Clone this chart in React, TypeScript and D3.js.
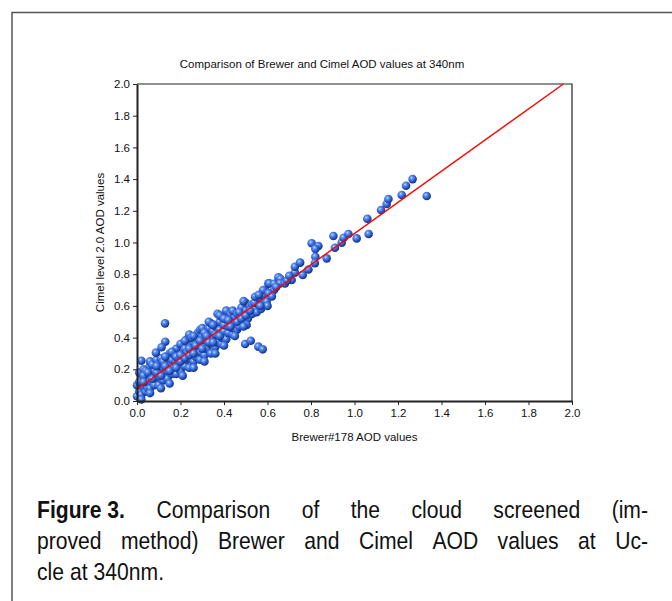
import { useEffect, useRef } from "react";
import * as d3 from "d3";

// Brewer (x) vs Cimel (y) AOD at 340nm
const denseCloud: [number, number][] = [
  [0.0, 0.03], [0.01, 0.06], [0.0, 0.1], [0.02, 0.14], [0.01, 0.18], [0.02, 0.04], [0.03, 0.09], [0.01, 0.12], [0.03, 0.2],
  [0.04, 0.06], [0.04, 0.1], [0.05, 0.15], [0.04, 0.19], [0.05, 0.08], [0.06, 0.22], [0.05, 0.12], [0.03, 0.16],
  [0.06, 0.08], [0.07, 0.12], [0.07, 0.17], [0.08, 0.21], [0.06, 0.25], [0.08, 0.1], [0.09, 0.14], [0.08, 0.19], [0.07, 0.23], [0.09, 0.26],
  [0.1, 0.1], [0.1, 0.15], [0.11, 0.19], [0.1, 0.23], [0.11, 0.27], [0.12, 0.13], [0.12, 0.21], [0.13, 0.17], [0.12, 0.25],
  [0.14, 0.14], [0.14, 0.19], [0.15, 0.23], [0.14, 0.27], [0.15, 0.3], [0.16, 0.17], [0.16, 0.22], [0.16, 0.26], [0.17, 0.2], [0.17, 0.29], [0.18, 0.24],
  [0.18, 0.17], [0.19, 0.21], [0.19, 0.28], [0.2, 0.32], [0.18, 0.33], [0.2, 0.19], [0.21, 0.25], [0.2, 0.36], [0.21, 0.29], [0.22, 0.22], [0.22, 0.33], [0.19, 0.25],
  [0.23, 0.26], [0.23, 0.31], [0.24, 0.36], [0.23, 0.39], [0.24, 0.21], [0.25, 0.29], [0.25, 0.34], [0.24, 0.42], [0.26, 0.25], [0.26, 0.37], [0.25, 0.4], [0.27, 0.31],
  [0.27, 0.28], [0.28, 0.34], [0.28, 0.39], [0.28, 0.43], [0.29, 0.26], [0.29, 0.31], [0.3, 0.37], [0.3, 0.41], [0.29, 0.45], [0.31, 0.29], [0.31, 0.34], [0.3, 0.46],
  [0.32, 0.33], [0.32, 0.38], [0.33, 0.42], [0.33, 0.46], [0.34, 0.3], [0.34, 0.36], [0.35, 0.4], [0.34, 0.49], [0.35, 0.44], [0.36, 0.34], [0.36, 0.47], [0.33, 0.5],
  [0.37, 0.37], [0.37, 0.42], [0.38, 0.45], [0.38, 0.5], [0.39, 0.36], [0.39, 0.4], [0.4, 0.44], [0.4, 0.48], [0.39, 0.53], [0.41, 0.39], [0.41, 0.52], [0.41, 0.57],
  [0.42, 0.43], [0.42, 0.47], [0.43, 0.51], [0.43, 0.55], [0.44, 0.42], [0.44, 0.46], [0.45, 0.49], [0.45, 0.53], [0.44, 0.57], [0.46, 0.45], [0.46, 0.55], [0.37, 0.55],
  [0.47, 0.47], [0.47, 0.51], [0.48, 0.55], [0.48, 0.59], [0.49, 0.5], [0.49, 0.54], [0.5, 0.57], [0.5, 0.62], [0.51, 0.52], [0.51, 0.56], [0.52, 0.6], [0.49, 0.63],
  [0.53, 0.55], [0.53, 0.61], [0.54, 0.58], [0.55, 0.64], [0.55, 0.56], [0.56, 0.61], [0.57, 0.66], [0.57, 0.58], [0.58, 0.63], [0.59, 0.7],
  [0.02, 0.01], [0.06, 0.05], [0.11, 0.08], [0.15, 0.11], [0.21, 0.16], [0.26, 0.21], [0.31, 0.25], [0.36, 0.3], [0.4, 0.35], [0.45, 0.41],
  [0.03, 0.12], [0.05, 0.18], [0.07, 0.14], [0.09, 0.18], [0.09, 0.22], [0.11, 0.16], [0.13, 0.22], [0.13, 0.28], [0.15, 0.19], [0.16, 0.31],
  [0.18, 0.21], [0.18, 0.28], [0.2, 0.25], [0.2, 0.29], [0.22, 0.27], [0.22, 0.38], [0.24, 0.29], [0.24, 0.33], [0.26, 0.3], [0.26, 0.41],
  [0.27, 0.35], [0.29, 0.38], [0.3, 0.33], [0.31, 0.43], [0.32, 0.41], [0.33, 0.37], [0.35, 0.37], [0.35, 0.48], [0.36, 0.42], [0.38, 0.41],
  [0.38, 0.54], [0.4, 0.52], [0.42, 0.51], [0.43, 0.47], [0.46, 0.5], [0.47, 0.56], [0.48, 0.52], [0.5, 0.54], [0.52, 0.57], [0.54, 0.62],
  [0.56, 0.65], [0.58, 0.67],
];

const midRange: [number, number][] = [
  [0.604, 0.742], [0.608, 0.742], [0.63, 0.74], [0.65, 0.78], [0.66, 0.77], [0.658, 0.742], [0.68, 0.742], [0.711, 0.763],
  [0.726, 0.81], [0.726, 0.847], [0.762, 0.795], [0.788, 0.83], [0.75, 0.873], [0.58, 0.7], [0.63, 0.7], [0.605, 0.68],
  [0.543, 0.658], [0.56, 0.67], [0.596, 0.627], [0.6, 0.6], [0.567, 0.6], [0.62, 0.66], [0.64, 0.72], [0.69, 0.76], [0.7, 0.79],
];

const upperTail: [number, number][] = [
  [0.803, 0.995], [0.834, 0.978], [0.82, 0.96], [0.872, 0.9], [0.82, 0.91], [0.818, 0.87], [0.903, 1.041], [0.91, 0.967],
  [0.941, 0.999], [0.95, 1.03], [0.972, 1.054], [1.01, 1.026], [1.065, 1.054], [1.059, 1.15], [1.122, 1.205], [1.148, 1.243],
  [1.156, 1.274], [1.217, 1.3], [1.237, 1.358], [1.267, 1.4], [1.332, 1.293],
];

const outliers: [number, number][] = [
  [0.129, 0.49], [0.02, 0.254], [0.13, 0.374], [0.087, 0.305], [0.113, 0.339],
  [0.497, 0.36], [0.523, 0.38], [0.558, 0.343], [0.578, 0.326], [0.504, 0.48], [0.49, 0.47],
];

// regression line y = a + b x
const fitIntercept = 0.075;
const fitSlope = 0.982;

const axisTicks = [0, 0.2, 0.4, 0.6, 0.8, 1.0, 1.2, 1.4, 1.6, 1.8, 2.0];

const chartTitle = "Comparison of Brewer and Cimel AOD values at 340nm";
const xLabel = "Brewer#178 AOD values";
const yLabel = "Cimel level 2.0 AOD values";

const captionLines = [
  ["Figure 3.", "Comparison", "of", "the", "cloud", "screened", "(im-"],
  ["proved", "method)", "Brewer", "and", "Cimel", "AOD", "values", "at", "Uc-"],
  ["cle", "at", "340nm."],
];

export default function App() {
  const svgRef = useRef<SVGSVGElement>(null);

  useEffect(() => {
    if (!svgRef.current) return;
    const svg = d3.select(svgRef.current);
    svg.selectAll("*").remove();

    const left = 137;
    const right = 572;
    const top = 84;
    const bottom = 401;
    const font = "Liberation Sans, Arial, sans-serif";

    const x = d3.scaleLinear().domain([0, 2]).range([left, right]);
    const y = d3.scaleLinear().domain([0, 2]).range([bottom, top]);

    // page border
    svg
      .append("path")
      .attr("d", "M12,601 V12.5 H672")
      .attr("fill", "none")
      .attr("stroke", "#555")
      .attr("stroke-width", 1.5);

    const defs = svg.append("defs");
    const grad = defs
      .append("radialGradient")
      .attr("id", "ball")
      .attr("cx", "38%")
      .attr("cy", "35%")
      .attr("r", "65%");
    grad.append("stop").attr("offset", "0%").attr("stop-color", "#d8e6ff");
    grad.append("stop").attr("offset", "22%").attr("stop-color", "#6a9af2");
    grad.append("stop").attr("offset", "65%").attr("stop-color", "#2a5cd0");
    grad.append("stop").attr("offset", "100%").attr("stop-color", "#12317e");

    // title
    svg
      .append("text")
      .attr("x", 322)
      .attr("y", 68)
      .attr("text-anchor", "middle")
      .attr("font-family", font)
      .attr("font-size", "11.5px")
      .attr("fill", "#111")
      .text(chartTitle);

    // frame top / right
    svg
      .append("path")
      .attr("d", `M${left},${top}H${right}V${bottom}`)
      .attr("fill", "none")
      .attr("stroke", "#222")
      .attr("stroke-width", 1.2);

    // points
    const allPoints = [...denseCloud, ...midRange, ...upperTail, ...outliers];
    svg
      .append("g")
      .selectAll("circle")
      .data(allPoints)
      .join("circle")
      .attr("cx", (d) => x(d[0]))
      .attr("cy", (d) => y(d[1]))
      .attr("r", 4.3)
      .attr("fill", "url(#ball)");

    // fit line
    const xEnd = (2 - fitIntercept) / fitSlope;
    svg
      .append("line")
      .attr("x1", x(0))
      .attr("y1", y(fitIntercept))
      .attr("x2", x(xEnd))
      .attr("y2", y(fitIntercept + fitSlope * xEnd))
      .attr("stroke", "#ff0000")
      .attr("stroke-width", 1.4);

    // axes
    const fmt = d3.format(".1f");
    const xAxis = svg
      .append("g")
      .attr("transform", `translate(0,${bottom})`)
      .call(d3.axisBottom(x).tickValues(axisTicks).tickFormat((d) => fmt(d as number)).tickSizeInner(4).tickSizeOuter(0).tickPadding(4));
    const yAxis = svg
      .append("g")
      .attr("transform", `translate(${left},0)`)
      .call(d3.axisLeft(y).tickValues(axisTicks).tickFormat((d) => fmt(d as number)).tickSizeInner(4).tickSizeOuter(0).tickPadding(3));

    [xAxis, yAxis].forEach((g) => {
      g.select(".domain").attr("stroke", "#222").attr("stroke-width", 2);
      g.selectAll(".tick line").attr("stroke", "#222");
      g.selectAll(".tick text")
        .attr("font-family", font)
        .attr("font-size", "11.5px")
        .attr("fill", "#111");
    });

    // axis labels
    svg
      .append("text")
      .attr("x", (left + right) / 2)
      .attr("y", 441)
      .attr("text-anchor", "middle")
      .attr("font-family", font)
      .attr("font-size", "11.5px")
      .attr("fill", "#111")
      .text(xLabel);

    svg
      .append("text")
      .attr("transform", `translate(104,${(top + bottom) / 2}) rotate(-90)`)
      .attr("text-anchor", "middle")
      .attr("font-family", font)
      .attr("font-size", "11.5px")
      .attr("fill", "#111")
      .text(yLabel);

    // caption: slightly condensed, justified by hand
    const capLeft = 37;
    const capRight = 648;
    const squeeze = 0.88;
    const baselines = [518, 549, 580];
    captionLines.forEach((words, li) => {
      const g = svg.append("g");
      const nodes = words.map((w, wi) =>
        g
          .append("text")
          .attr("font-family", font)
          .attr("font-size", "24px")
          .attr("font-weight", li === 0 && wi === 0 ? "bold" : "normal")
          .attr("fill", "#111")
          .text(w)
      );
      const widths = nodes.map((n) => (n.node() as SVGTextElement).getComputedTextLength() * squeeze);
      const total = d3.sum(widths);
      const justify = li < captionLines.length - 1;
      const gap = justify ? (capRight - capLeft - total) / (words.length - 1) : 6;
      let cx = capLeft;
      nodes.forEach((n, i) => {
        n.attr("transform", `translate(${cx},${baselines[li]}) scale(${squeeze},1)`);
        cx += widths[i] + gap;
      });
    });
  }, []);

  return (
    <svg
      ref={svgRef}
      width={672}
      height={601}
      style={{ position: "absolute", left: 0, top: 0, background: "#fff" }}
    ></svg>
  );
}
